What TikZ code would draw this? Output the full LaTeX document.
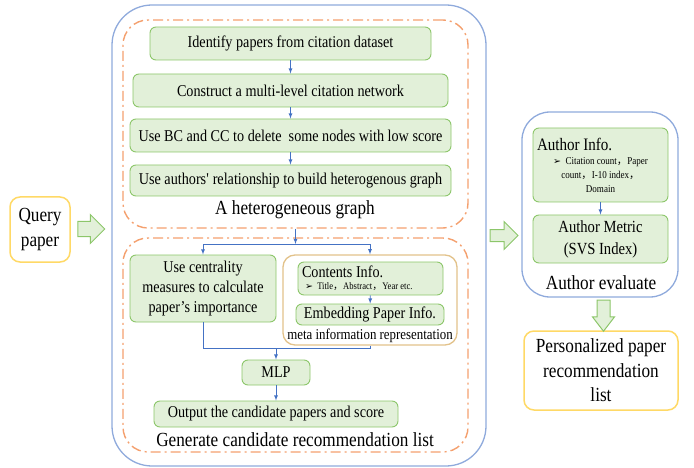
\documentclass[tikz,border=0pt]{standalone}
\usepackage{fontspec}
\setmainfont[FakeStretch=0.86]{Liberation Serif}
\newfontfamily\dingfont{DejaVu Sans}
\newfontfamily\cjk{Noto Sans CJK SC}
\usetikzlibrary{shapes.arrows}

\definecolor{boxgreen}{HTML}{E2F0D9}
\definecolor{linegreen}{HTML}{8CC66A}
\definecolor{lineblue}{HTML}{8FAADC}
\definecolor{arrowblue}{HTML}{4472C4}
\definecolor{dashorange}{HTML}{F4A06E}
\definecolor{lineyellow}{HTML}{FFD966}
\definecolor{linegold}{HTML}{E2C28A}

\begin{document}
\begin{tikzpicture}[x=1pt, y=-1pt,
    gbox/.style={draw=linegreen, fill=boxgreen, rounded corners=6pt, line width=0.9pt,
        inner sep=0pt, align=center, font=\fontsize{16.5}{20}\selectfont},
    grp/.style={draw=dashorange, line width=1.4pt, rounded corners=25pt, inner sep=0pt,
        dash pattern=on 10pt off 4pt on 2pt off 4pt},
    outer/.style={draw=lineblue, line width=1.3pt, inner sep=0pt},
    ybox/.style={draw=lineyellow, line width=1.5pt, rounded corners=10pt, inner sep=0pt,
        align=center, font=\fontsize{20}{24.5}\selectfont},
    big/.style={font=\fontsize{20}{24}\selectfont},
    flow/.style={draw=arrowblue, line width=0.8pt},
    blk/.style={single arrow, draw=linegreen, fill=boxgreen, line width=1pt}]

    \useasboundingbox (0,0) rectangle (694,468);

    % containers
    \node[outer, rounded corners=40pt, minimum width=374pt, minimum height=461pt] (left) at (299,235.5) {};
    \node[grp, minimum width=345pt, minimum height=208pt] (top) at (295.5,124) {};
    \node[grp, minimum width=345pt, minimum height=214pt] (bot) at (295.5,345) {};
    \node[outer, rounded corners=28pt, minimum width=156pt, minimum height=185pt] (right) at (600,204.5) {};

    % heterogeneous graph
    \node[gbox, minimum width=281pt, minimum height=33pt] (b1) at (290.5,43.5) {Identify papers from citation dataset};
    \node[gbox, minimum width=315pt, minimum height=33pt] (b2) at (290.5,90.5) {Construct a multi-level citation network};
    \node[gbox, minimum width=321pt, minimum height=33pt] (b3) at (290.5,135.5) {Use BC and CC to delete\ \ some nodes with low score};
    \node[gbox, minimum width=321pt, minimum height=31pt] (b4) at (290.5,180.5) {Use authors\textquotesingle\ relationship to build heterogenous graph};
    \node[big] (toplbl) at (295,210) {A heterogeneous graph};

    \draw[flow, -latex] (b1) -- (b2);
    \draw[flow, -latex] (b2) -- (b3);
    \draw[flow, -latex] (b3) -- (b4);

    % candidate list
    \node[gbox, minimum width=146pt, minimum height=67pt] (cent) at (203,288.5) {Use centrality\\measures to calculate\\paper's importance};
    \node[draw=linegold, line width=1.3pt, rounded corners=12pt, minimum width=174pt, minimum height=90pt] (cont) at (370,300) {};
    \node[gbox, minimum width=145pt, minimum height=33pt] (info) at (370.5,278.5) {\begin{minipage}{137pt}\fontsize{16.5}{17}\selectfont Contents Info.\par
        \fontsize{10}{12}\selectfont\hspace*{3pt}{\dingfont\fontsize{9.5}{10}\selectfont ➢}\ \ Title{\cjk ，}Abstract{\cjk ，}Year etc.\end{minipage}};
    \node[gbox, minimum width=148pt, minimum height=21pt] (embed) at (370,314.5) {Embedding Paper Info.};
    \node[font=\fontsize{15}{18}\selectfont] (meta) at (370,336) {meta information representation};
    \node[gbox, minimum width=68pt, minimum height=25pt] (mlp) at (276,372.5) {MLP};
    \node[gbox, minimum width=244pt, minimum height=26pt] (out) at (276,414) {Output the candidate papers and score};
    \node[big] (botlbl) at (295,440) {Generate candidate recommendation list};

    \draw[flow, -latex] (info) -- (embed);
    \coordinate (split) at (295.5,244);
    \draw[flow, -latex] (top.south) -- (split);
    \draw[flow, -latex] (split) -| (cent.north);
    \draw[flow, -latex] (split) -| (cont.north);
    \coordinate (join) at (276,348);
    \draw[flow] (cent.south) |- (join);
    \draw[flow] (cont.south) |- (join);
    \draw[flow, -latex] (join) -- (mlp);
    \draw[flow, -latex] (mlp) -- (out);

    % author evaluate
    \node[gbox, minimum width=135pt, minimum height=74pt] (ainfo) at (600.5,165) {\begin{minipage}{127pt}\fontsize{17.5}{19}\selectfont Author Info.\par
        \fontsize{10.5}{14}\selectfont\centering{\dingfont\fontsize{9.5}{10}\selectfont ➢}\ \ Citation count{\cjk ，}Paper\\
        count{\cjk ，}I-10 index{\cjk ，}\\Domain\par\end{minipage}};
    \node[gbox, minimum width=135pt, minimum height=48pt, font=\fontsize{17}{22}\selectfont] (ametric) at (600.5,239) {Author Metric\\(SVS Index)};
    \node[big] (rightlbl) at (601,283) {Author evaluate};
    \draw[flow, -latex] (ainfo) -- (ametric);

    % query and result
    \node[ybox, minimum width=60pt, minimum height=65pt] (query) at (40,229.5) {Query\\paper};
    \node[ybox, minimum width=154pt, minimum height=79pt] (pers) at (601,370.5) {Personalized paper\\recommendation\\list};

    \node[blk, inner sep=7pt, minimum height=27pt, single arrow head extend=7pt] (qarrow) at (87.5,229) {};
    \node[blk, inner sep=5.5pt, minimum height=28pt, single arrow head extend=8pt] (rarrow) at (501,235.5) {};
    \node[blk, inner sep=6pt, minimum height=31pt, single arrow head extend=4.5pt, single arrow tip angle=75,
        shape border rotate=270] (darrow) at (603.5,311.5) {};
\end{tikzpicture}
\end{document}
